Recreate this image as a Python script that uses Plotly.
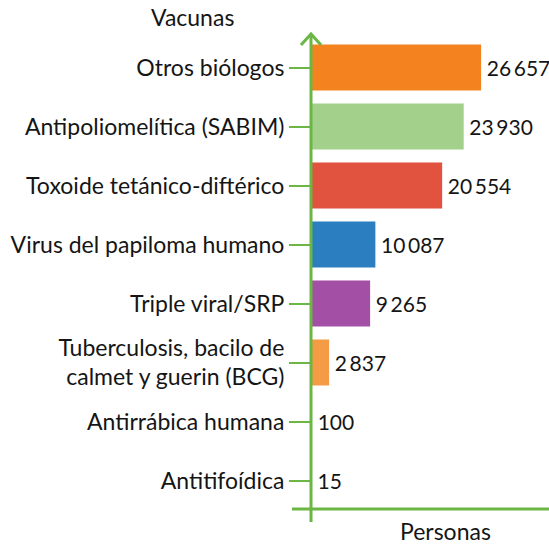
import plotly.graph_objects as go

# Personas vacunadas por tipo de biológico
vacunas = [
    "Otros biólogos",
    "Antipoliomelítica (SABIM)",
    "Toxoide tetánico-diftérico",
    "Virus del papiloma humano",
    "Triple viral/SRP",
    "Tuberculosis, bacilo de<br>calmet y guerin (BCG)",
    "Antirrábica humana",
    "Antitifoídica",
]
personas = [26657, 23930, 20554, 10087, 9265, 2837, 100, 15]
etiquetas = ["26\u2009657", "23\u2009930", "20\u2009554", "10\u2009087",
             "9\u2009265", "2\u2009837", "100", "15"]
colores = ["#F4831F", "#A3D18B", "#E2533F", "#2B7FC0",
           "#A34FA6", "#F59B45", "#7CC151", "#C9573A"]

verde = "#6BB644"
fuente = "Lato"
tinta = "#151515"

# plot area in pixels (for axis decorations)
L, T, W, H = 311, 38, 238, 472


def px(x):
    return (x - L) / W


def py(y):
    return (T + H - y) / H


fig = go.Figure(go.Bar(
    x=personas,
    y=vacunas,
    orientation="h",
    marker=dict(color=colores, line=dict(width=0)),
    width=0.78,
    text=etiquetas,
    texttemplate="\u2009%{text}",
    textposition="outside",
    textfont=dict(family=fuente, size=21, color=tinta),
    cliponaxis=False,
))

fig.update_layout(
    width=549, height=546,
    margin=dict(l=L, r=549 - L - W, t=T, b=546 - T - H),
    paper_bgcolor="white", plot_bgcolor="white",
    showlegend=False,
    font=dict(family=fuente, size=23, color=tinta),
    xaxis=dict(range=[0, 37300], showgrid=False, zeroline=False,
               showticklabels=False, ticks="", showline=False),
    yaxis=dict(categoryorder="array", categoryarray=vacunas[::-1],
               range=[-0.5, 7.5], showgrid=False, zeroline=False,
               showline=False, ticks="outside", ticklen=21, tickwidth=2,
               tickcolor=verde, tickfont=dict(family=fuente, size=23, color=tinta)),
    shapes=[
        # eje vertical con flecha
        dict(type="line", xref="paper", yref="paper", x0=0, x1=0,
             y0=py(522), y1=py(34), line=dict(color=verde, width=3)),
        dict(type="path", xref="paper", yref="paper",
             path=f"M {px(301)},{py(45)} L {px(311)},{py(34)} L {px(321)},{py(45)}",
             line=dict(color=verde, width=3)),
        # eje horizontal
        dict(type="line", xref="paper", yref="paper", x0=px(292), x1=px(549),
             y0=py(509), y1=py(509), line=dict(color=verde, width=3)),
    ],
    annotations=[
        dict(text="Vacunas", xref="paper", yref="paper", x=px(192), y=py(17),
             showarrow=False, xanchor="center", yanchor="middle",
             font=dict(family=fuente, size=23, color=tinta)),
        dict(text="Personas", xref="paper", yref="paper", x=px(445), y=py(531),
             showarrow=False, xanchor="center", yanchor="middle",
             font=dict(family=fuente, size=23, color=tinta)),
    ],
)

fig.write_html("out.html")
